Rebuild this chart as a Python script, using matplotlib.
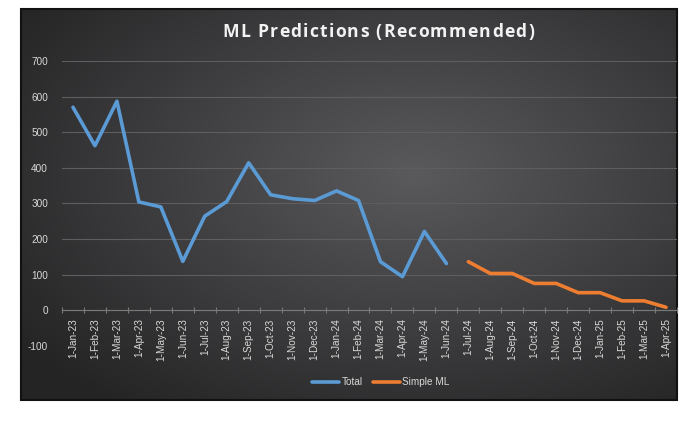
import numpy as np
import matplotlib
matplotlib.use("Agg")
import matplotlib.pyplot as plt
from matplotlib.patches import Rectangle

months = ["1-Jan-23", "1-Feb-23", "1-Mar-23", "1-Apr-23", "1-May-23", "1-Jun-23",
          "1-Jul-23", "1-Aug-23", "1-Sep-23", "1-Oct-23", "1-Nov-23", "1-Dec-23",
          "1-Jan-24", "1-Feb-24", "1-Mar-24", "1-Apr-24", "1-May-24", "1-Jun-24",
          "1-Jul-24", "1-Aug-24", "1-Sep-24", "1-Oct-24", "1-Nov-24", "1-Dec-24",
          "1-Jan-25", "1-Feb-25", "1-Mar-25", "1-Apr-25"]
total = [570, 462, 587, 304, 290, 137, 264, 305, 414, 324, 313, 308,
         335, 308, 136, 94, 221, 131]
simple_ml = [136, 103, 103, 75, 75, 49, 49, 26, 26, 8]
yticks = [-100, 0, 100, 200, 300, 400, 500, 600, 700]
title = "ML Predictions (Recommended)"

W, H = 700, 432
fig = plt.figure(figsize=(W / 100, H / 100), dpi=100)
fig.patch.set_facecolor("white")

# chart background with radial gradient
cx0, cy0, cx1, cy1 = 21, 9, 677, 400
bg = fig.add_axes([cx0 / W, 1 - cy1 / H, (cx1 - cx0) / W, (cy1 - cy0) / H])
gx, gy = np.meshgrid(np.linspace(0, 1, 400), np.linspace(0, 1, 300))
r = np.sqrt(((gx - 0.6) / 0.75) ** 2 + ((gy - 0.42) / 0.75) ** 2)
r = np.clip(r, 0, 1)
inner = np.array([0x5a, 0x59, 0x5c]) / 255
outer = np.array([0x24, 0x24, 0x25]) / 255
img = inner[None, None, :] * (1 - r[..., None]) + outer[None, None, :] * r[..., None]
bg.imshow(img, aspect="auto", extent=(0, 1, 0, 1), origin="upper")
bg.set_xlim(0, 1)
bg.set_ylim(0, 1)
bg.axis("off")
bg.add_patch(Rectangle((0, 0), 1, 1, transform=bg.transAxes, fill=False,
                       edgecolor="#111111", linewidth=1.5, clip_on=False))

# plot area
pl, pr, pt, pb = 62, 677, 61, 345.7
ax = fig.add_axes([pl / W, 1 - pb / H, (pr - pl) / W, (pb - pt) / H])
ax.set_facecolor("none")
x_all = np.arange(len(months))
ax.plot(x_all[:len(total)], total, color="#5B9BD5", linewidth=2.6,
        solid_joinstyle="round", solid_capstyle="round", label="Total", zorder=3)
ax.plot(x_all[len(total):len(total) + len(simple_ml)], simple_ml, color="#ED7D31",
        linewidth=2.6, solid_joinstyle="round", solid_capstyle="round",
        label="Simple ML", zorder=3)

ax.set_xlim(-0.5, 27.38)
ax.set_ylim(-100, 700)
ax.set_yticks(yticks)
ax.set_yticklabels([str(v) for v in yticks])
ax.yaxis.grid(True, color="#5e5e60", linewidth=0.8)
ax.set_axisbelow(True)
for s in ["top", "right", "left"]:
    ax.spines[s].set_visible(False)
ax.spines["bottom"].set_position(("data", 0))
ax.spines["bottom"].set_color("#7a7a7a")
ax.spines["bottom"].set_linewidth(0.8)
ax.spines["bottom"].set_zorder(2)

ax.set_xticks(x_all)
ax.set_xticklabels(months, rotation=90, fontsize=7.2, color="#d9d9d9",
                   family="Liberation Sans")
ax.set_xticks(np.arange(-0.5, 27.6, 1), minor=True)
ax.tick_params(axis="x", which="major", length=0, pad=6)
ax.tick_params(axis="x", which="minor", length=4, color="#7a7a7a", width=0.8,
               direction="inout")
ax.tick_params(axis="y", length=0, labelsize=7.2, labelcolor="#d9d9d9", pad=10)
for lab in ax.get_yticklabels():
    lab.set_family("Liberation Sans")

# title with letter spacing
renderer = fig.canvas.get_renderer()
tprops = dict(fontsize=12.6, fontweight="bold", color="#f2f2f2", family="Open Sans")
def text_width(s):
    if not s:
        return 0.0
    t = fig.text(0, 0, s.replace(" ", "\u00a0"), **tprops)
    w = t.get_window_extent(renderer).width
    t.remove()
    return w
target_left, target_right = 222.5, 534.0
natural = text_width(title)
gap = (target_right - target_left - natural) / (len(title) - 1)
for i, ch in enumerate(title):
    if ch == " ":
        continue
    xpix = target_left + text_width(title[:i]) + i * gap
    fig.text(xpix / W, 1 - 32 / H, ch, ha="left", va="center", **tprops)

leg = fig.legend(loc="center", bbox_to_anchor=(381 / W, 1 - 382 / H), ncol=2,
                 frameon=False, handlelength=2.7, handletextpad=0.2,
                 columnspacing=1.1, prop={"family": "Liberation Sans", "size": 7.2})
for t in leg.get_texts():
    t.set_color("#d9d9d9")

fig.savefig("out.png", dpi=100, facecolor="white")
